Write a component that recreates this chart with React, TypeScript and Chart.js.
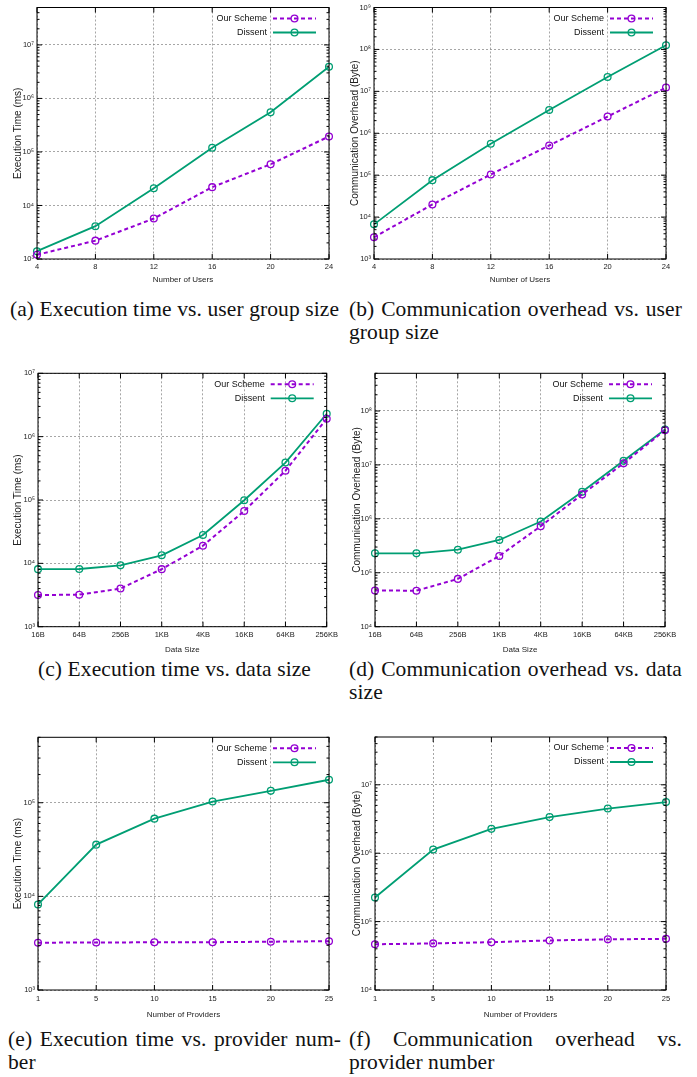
import React, { useEffect, useRef } from 'react';
import { Chart, registerables } from 'chart.js';

Chart.register(...registerables);

// ---------------- data ----------------
const seriesNames = ['Our Scheme', 'Dissent'];

const userLabels = ['4', '8', '12', '16', '20', '24'];
const userTimeOurs = [1200, 2200, 5700, 22000, 59000, 195000];
const userTimeDissent = [1400, 4100, 21000, 120000, 550000, 3900000];
const userCommOurs = [3300, 20000, 104000, 510000, 2500000, 12300000];
const userCommDissent = [6700, 76000, 560000, 3600000, 22000000, 126000000];

const sizeLabels = ['16B', '64B', '256B', '1KB', '4KB', '16KB', '64KB', '256KB'];
const sizeTimeOurs = [3160, 3200, 4000, 8100, 19000, 67000, 290000, 1920000];
const sizeTimeDissent = [8100, 8150, 9300, 13400, 28000, 99000, 390000, 2300000];
const sizeCommOurs = [47000, 46500, 77000, 205000, 730000, 2840000, 10700000, 44000000];
const sizeCommDissent = [229000, 229000, 268000, 406000, 890000, 3180000, 11900000, 45500000];

const providerLabels = ['1', '5', '10', '15', '20', '25'];
const provTimeOurs = [3200, 3220, 3230, 3240, 3280, 3320];
const provTimeDissent = [8200, 35700, 67600, 103000, 134000, 176000];
const provCommOurs = [46600, 48000, 50000, 53000, 55000, 56000];
const provCommDissent = [225000, 1130000, 2270000, 3370000, 4500000, 5600000];

const ticksA = [1e3, 1e4, 1e5, 1e6, 1e7];
const ticksB = [1e3, 1e4, 1e5, 1e6, 1e7, 1e8, 1e9];
const ticksC = [1e3, 1e4, 1e5, 1e6, 1e7];
const ticksD = [1e4, 1e5, 1e6, 1e7, 1e8];
const ticksE = [1e3, 1e4, 1e5];
const ticksF = [1e4, 1e5, 1e6, 1e7];

const yTitleTime = 'Execution Time (ms)';
const yTitleComm = 'Communication Overhead (Byte)';
const xTitleUsers = 'Number of Users';
const xTitleSize = 'Data Size';
const xTitleProviders = 'Number of Providers';

const captions = {
  a: ['(a) Execution time vs. user group size'],
  b: ['(b) Communication overhead vs. user', 'group size'],
  c: ['(c) Execution time vs. data size'],
  d: ['(d) Communication overhead vs. data', 'size'],
  e: ['(e) Execution time vs. provider num-', 'ber'],
  f: ['(f) Communication overhead vs.', 'provider number'],
};

// ---------------- style ----------------
const OUR_COLOR = '#9400d3';
const DIS_COLOR = '#009e73';
const SANS = "'Liberation Sans', Arial, Helvetica, sans-serif";
const SERIF = "'Liberation Serif', 'Times New Roman', serif";

const SUP: Record<string, string> = {
  '0': '\u2070', '1': '\u00b9', '2': '\u00b2', '3': '\u00b3', '4': '\u2074',
  '5': '\u2075', '6': '\u2076', '7': '\u2077', '8': '\u2078', '9': '\u2079', '-': '\u207b',
};
const fmtPow = (v: number) => {
  const e = Math.round(Math.log10(v));
  return '10' + String(e).split('').map((c) => SUP[c] || c).join('');
};

type Box = { left: number; top: number; w: number; h: number };
type Plot = { l: number; t: number; r: number; b: number };
type Spec = {
  key: string;
  labels: string[];
  ours: number[];
  dissent: number[];
  yMin: number;
  yMax: number;
  yTicks: number[];
  yTitle: string;
  xTitle: string;
  canvas: Box;
  plot: Plot;
  yTitleX: number; // relative to canvas left
  xLabelY: number; // absolute
  xTitleY: number; // absolute
};

const specs: Spec[] = [
  {
    key: 'a', labels: userLabels, ours: userTimeOurs, dissent: userTimeDissent,
    yMin: 1e3, yMax: 5e7, yTicks: ticksA, yTitle: yTitleTime, xTitle: xTitleUsers,
    canvas: { left: 0, top: 0, w: 345, h: 285 }, plot: { l: 37, t: 5, r: 329, b: 259 },
    yTitleX: 18, xLabelY: 266.7, xTitleY: 278,
  },
  {
    key: 'b', labels: userLabels, ours: userCommOurs, dissent: userCommDissent,
    yMin: 1e3, yMax: 1e9, yTicks: ticksB, yTitle: yTitleComm, xTitle: xTitleUsers,
    canvas: { left: 345, top: 0, w: 352, h: 285 }, plot: { l: 374, t: 5, r: 666, b: 259 },
    yTitleX: 10, xLabelY: 266.7, xTitleY: 278,
  },
  {
    key: 'c', labels: sizeLabels, ours: sizeTimeOurs, dissent: sizeTimeDissent,
    yMin: 1e3, yMax: 1e7, yTicks: ticksC, yTitle: yTitleTime, xTitle: xTitleSize,
    canvas: { left: 0, top: 355, w: 345, h: 300 }, plot: { l: 38, t: 373.3, r: 326.7, b: 626.7 },
    yTitleX: 18, xLabelY: 635.3, xTitleY: 646,
  },
  {
    key: 'd', labels: sizeLabels, ours: sizeCommOurs, dissent: sizeCommDissent,
    yMin: 1e4, yMax: 5e8, yTicks: ticksD, yTitle: yTitleComm, xTitle: xTitleSize,
    canvas: { left: 345, top: 355, w: 352, h: 300 }, plot: { l: 375, t: 373.3, r: 665, b: 626.7 },
    yTitleX: 12, xLabelY: 635.3, xTitleY: 646,
  },
  {
    key: 'e', labels: providerLabels, ours: provTimeOurs, dissent: provTimeDissent,
    yMin: 1e3, yMax: 5e5, yTicks: ticksE, yTitle: yTitleTime, xTitle: xTitleProviders,
    canvas: { left: 0, top: 720, w: 345, h: 300 }, plot: { l: 38, t: 737.3, r: 329, b: 990 },
    yTitleX: 18, xLabelY: 999, xTitleY: 1010,
  },
  {
    key: 'f', labels: providerLabels, ours: provCommOurs, dissent: provCommDissent,
    yMin: 1e4, yMax: 5e7, yTicks: ticksF, yTitle: yTitleComm, xTitle: xTitleProviders,
    canvas: { left: 345, top: 720, w: 352, h: 300 }, plot: { l: 375, t: 737, r: 666, b: 990 },
    yTitleX: 12, xLabelY: 999, xTitleY: 1010,
  },
];

const TICK_FONT = 7.5;
const XTITLE_FONT = 8;
const YTITLE_FONT = 10;
const LEGEND_FONT = 9;

// gnuplot-like frame, inward ticks and legend
const gnuDecor = {
  id: 'gnuDecor',
  afterDraw(chart: any) {
    const { ctx, chartArea } = chart;
    const { left, right, top, bottom } = chartArea;
    ctx.save();
    ctx.strokeStyle = '#000';
    ctx.lineWidth = 1;
    ctx.setLineDash([]);
    ctx.strokeRect(left, top, right - left, bottom - top);

    // y ticks (major + minor) on left and right
    const ys = chart.scales.y;
    const d0 = Math.floor(Math.log10(ys.min));
    const d1 = Math.ceil(Math.log10(ys.max));
    ctx.beginPath();
    for (let d = d0; d <= d1; d++) {
      for (let m = 1; m <= 9; m++) {
        const v = m * Math.pow(10, d);
        if (v < ys.min * 0.999 || v > ys.max * 1.001) continue;
        const py = ys.getPixelForValue(v);
        const len = m === 1 ? 5 : 2.5;
        ctx.moveTo(left, py); ctx.lineTo(left + len, py);
        ctx.moveTo(right, py); ctx.lineTo(right - len, py);
      }
    }
    // x ticks bottom and top
    const xs = chart.scales.x;
    xs.ticks.forEach((_t: any, i: number) => {
      const px = xs.getPixelForTick(i);
      ctx.moveTo(px, bottom); ctx.lineTo(px, bottom - 5);
      ctx.moveTo(px, top); ctx.lineTo(px, top + 5);
    });
    ctx.stroke();

    // legend
    const sampleLen = 43;
    const sampleEnd = right - 13;
    const sampleStart = sampleEnd - sampleLen;
    ctx.font = `${LEGEND_FONT}px ${SANS}`;
    ctx.textAlign = 'right';
    ctx.textBaseline = 'middle';
    chart.data.datasets.forEach((ds: any, i: number) => {
      const y = top + 11 + 14 * i;
      ctx.fillStyle = '#111';
      ctx.fillText(ds.label, sampleStart - 6, y);
      ctx.strokeStyle = ds.borderColor;
      ctx.lineWidth = ds.borderWidth;
      ctx.setLineDash(ds.borderDash || []);
      ctx.beginPath();
      ctx.moveTo(sampleStart, y);
      ctx.lineTo(sampleEnd, y);
      ctx.stroke();
      ctx.setLineDash([]);
      ctx.lineWidth = ds.pointBorderWidth;
      ctx.beginPath();
      ctx.arc((sampleStart + sampleEnd) / 2, y, ds.pointRadius, 0, Math.PI * 2);
      ctx.stroke();
    });
    ctx.restore();
  },
};

function GnuChart({ spec }: { spec: Spec }) {
  const ref = useRef<HTMLCanvasElement>(null);
  useEffect(() => {
    const c = spec.canvas;
    const p = spec.plot;
    const xAxisH = c.top + c.h - p.b;
    const yAxisW = p.l - c.left;
    const xTickPad = spec.xLabelY - p.b - (TICK_FONT * 1.2) / 2;
    const xTitlePad = c.top + c.h - spec.xTitleY - (XTITLE_FONT * 1.2) / 2;
    const yTitlePad = spec.yTitleX - (YTITLE_FONT * 1.2) / 2;
    const chart = new Chart(ref.current as HTMLCanvasElement, {
      type: 'line',
      data: {
        labels: spec.labels,
        datasets: [
          {
            label: seriesNames[0], data: spec.ours,
            borderColor: OUR_COLOR, borderWidth: 2, borderDash: [4, 3],
            pointRadius: 3.4, pointBorderWidth: 1.3, pointBorderColor: OUR_COLOR,
            pointBackgroundColor: 'rgba(0,0,0,0)', pointStyle: 'circle',
            tension: 0, fill: false, clip: false,
          } as any,
          {
            label: seriesNames[1], data: spec.dissent,
            borderColor: DIS_COLOR, borderWidth: 1.8,
            pointRadius: 3.4, pointBorderWidth: 1.3, pointBorderColor: DIS_COLOR,
            pointBackgroundColor: 'rgba(0,0,0,0)', pointStyle: 'circle',
            tension: 0, fill: false, clip: false,
          } as any,
        ],
      },
      options: {
        responsive: false,
        animation: false,
        events: [],
        layout: { padding: { left: 0, top: p.t - c.top, right: c.left + c.w - p.r, bottom: 0 } },
        plugins: { legend: { display: false }, tooltip: { enabled: false } },
        scales: {
          x: {
            type: 'category',
            offset: false,
            grid: { color: '#808080', lineWidth: 0.7, drawTicks: false, offset: false },
            border: { display: false, dash: [2, 2] },
            ticks: {
              autoSkip: false, maxRotation: 0, minRotation: 0, padding: xTickPad,
              font: { family: SANS, size: TICK_FONT }, color: '#222',
            },
            title: {
              display: true, text: spec.xTitle, color: '#222',
              font: { family: SANS, size: XTITLE_FONT },
              padding: { top: xTitlePad, bottom: 0 },
            },
            afterFit: (s: any) => { s.height = xAxisH; },
          } as any,
          y: {
            type: 'logarithmic',
            min: spec.yMin,
            max: spec.yMax,
            grid: { color: '#808080', lineWidth: 0.7, drawTicks: false },
            border: { display: false, dash: [2, 2] },
            afterBuildTicks: (s: any) => { s.ticks = spec.yTicks.map((v) => ({ value: v })); },
            ticks: {
              autoSkip: false, padding: 3,
              font: { family: SANS, size: TICK_FONT }, color: '#222',
              callback: (v: any) => fmtPow(Number(v)),
            },
            title: {
              display: true, text: spec.yTitle, color: '#222',
              font: { family: SANS, size: YTITLE_FONT },
              padding: { top: yTitlePad, bottom: 0 },
            },
            afterFit: (s: any) => { s.width = yAxisW; },
          } as any,
        },
      },
      plugins: [gnuDecor as any],
    });
    return () => chart.destroy();
  }, [spec]);
  const c = spec.canvas;
  return (
    <canvas
      ref={ref}
      width={c.w}
      height={c.h}
      style={{ position: 'absolute', left: c.left, top: c.top, width: c.w, height: c.h }}
    />
  );
}

const COL_W = 333;
const capBase: React.CSSProperties = {
  position: 'absolute',
  fontFamily: SERIF,
  fontSize: 21.5,
  lineHeight: '23px',
  letterSpacing: '0.1px',
  color: '#111',
  width: COL_W,
};

function Caption({ lines, left, top }: { lines: string[]; left: number; top: number }) {
  if (lines.length === 1) {
    return <div style={{ ...capBase, left, top, textAlign: 'center', whiteSpace: 'nowrap' }}>{lines[0]}</div>;
  }
  return (
    <div style={{ ...capBase, left, top }}>
      <div style={{ textAlign: 'justify', textAlignLast: 'justify' as any }}>{lines[0]}</div>
      <div style={{ textAlign: 'left', whiteSpace: 'nowrap' }}>{lines[1]}</div>
    </div>
  );
}

export default function App() {
  return (
    <div style={{ position: 'absolute', left: 0, top: 0, width: 697, height: 1077, background: '#fff', overflow: 'hidden' }}>
      {specs.map((s) => <GnuChart key={s.key} spec={s} />)}
      <Caption lines={captions.a} left={8} top={298} />
      <Caption lines={captions.b} left={349} top={298} />
      <Caption lines={captions.c} left={8} top={658} />
      <Caption lines={captions.d} left={349} top={658} />
      <Caption lines={captions.e} left={8} top={1028} />
      <Caption lines={captions.f} left={349} top={1028} />
    </div>
  );
}
